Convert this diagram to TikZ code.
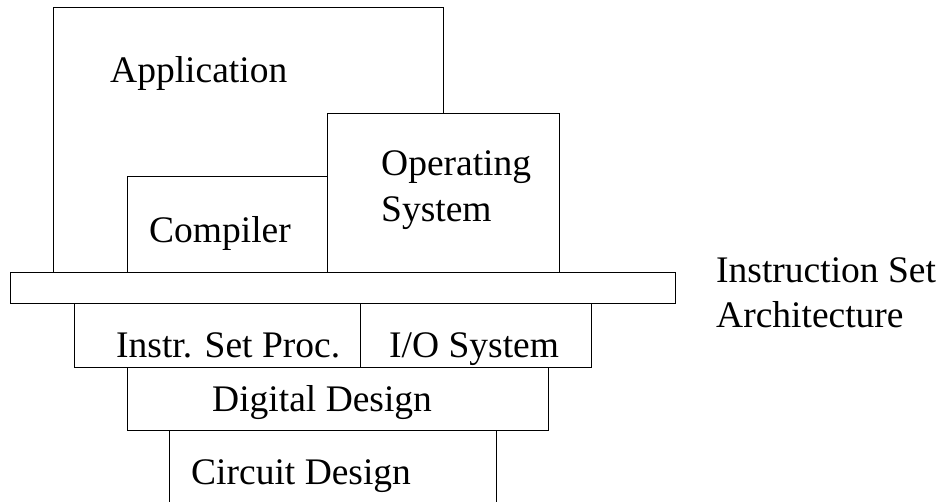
\documentclass[tikz,border=0pt]{standalone}
\usepackage{fontspec}
\setmainfont{Liberation Serif}
\begin{document}
\begin{tikzpicture}[x=1pt,y=-1pt,
  layer/.style={draw=black, line width=1.3pt, fill=white, rectangle, inner sep=0pt, anchor=north west},
  lbl/.style={inner sep=0pt, anchor=base west, font=\fontsize{37.5}{45}\selectfont}]
\useasboundingbox (0,0) rectangle (945,502);
\node[layer, minimum width=390pt, minimum height=265pt] (app) at (53,7) {};
\node[layer, minimum width=232pt, minimum height=159pt] (os) at (327,113) {};
\node[layer, minimum width=200pt, minimum height=96pt] (comp) at (127,176) {};
\node[layer, minimum width=665pt, minimum height=31pt] (isa) at (10,272) {};
\node[layer, minimum width=286pt, minimum height=64pt] (isp) at (74,303) {};
\node[layer, minimum width=231pt, minimum height=64pt] (io) at (360,303) {};
\node[layer, minimum width=421pt, minimum height=63pt] (dig) at (127,367) {};
\node[layer, minimum width=327pt, minimum height=100pt] (circ) at (169,430) {};
\node[lbl] (tapp) at (110,83) {Application};
\node[lbl] (tos1) at (381,176) {Operating};
\node[lbl] (tos2) at (381,222) {System};
\node[lbl] (tcomp) at (149,243) {Compiler};
\node[lbl] (tisp) at (116,358) {Instr. Set Proc.};
\node[lbl] (tio) at (389,358) {I/O System};
\node[lbl] (tdig) at (212,411) {Digital Design};
\node[lbl] (tcirc) at (191,484) {Circuit Design};
\node[lbl] (tisa1) at (716,283) {Instruction Set};
\node[lbl] (tisa2) at (716,328) {Architecture};
\end{tikzpicture}
\end{document}
